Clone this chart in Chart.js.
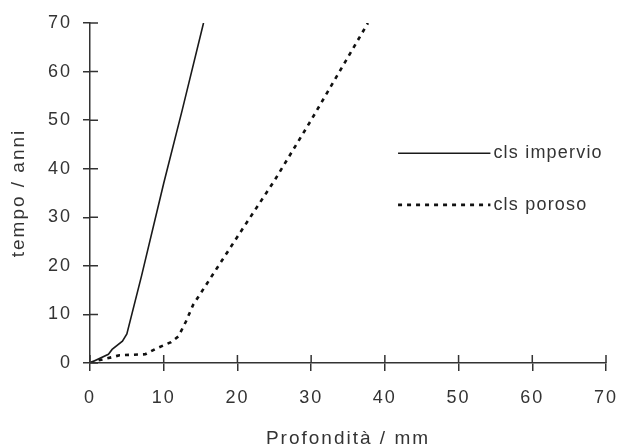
<!DOCTYPE html>
<html>
<head>
<meta charset="utf-8">
<script src="https://cdn.jsdelivr.net/npm/chart.js@4"></script>
<style>
  html, body { margin: 0; padding: 0; background: #fff; }
  #wrap { width: 622px; height: 448px; }
</style>
</head>
<body>
<div id="wrap"><canvas id="grafico"></canvas></div>
<script>
// dati (x = profondita mm, y = tempo anni)
var imperX = [0, 2.5, 3, 4.4, 5, 7, 10, 12.5, 15.4];
var imperY = [0, 1.8, 2.8, 4.5, 6, 18, 37, 52, 70];
var porosoX = [0, 1, 3, 4, 7.5, 9, 11, 12, 13, 14, 20, 25, 30, 37.7];
var porosoY = [0, 0.5, 1.2, 1.6, 1.8, 3, 4.3, 5.5, 8.5, 12, 26, 37.5, 50, 70];
var nomiSerie = ["cls impervio", "cls poroso"];
var xTicks = [0, 10, 20, 30, 40, 50, 60, 70];
var yTicks = [0, 10, 20, 30, 40, 50, 60, 70];

var INK = "#333333";
var FONT = "'Liberation Sans', Arial, sans-serif";

function punti(xs, ys){
  return xs.map(function(x, i){ return { x: x, y: ys[i] }; });
}

// spaziatura lettere come nello scan
var spaziatura = {
  id: "spaziatura",
  beforeLayout: function(chart){ chart.ctx.letterSpacing = "2px"; },
  beforeDraw: function(chart){ chart.ctx.letterSpacing = "2px"; }
};

// tacche che attraversano l'asse (parte interna)
var tacche = {
  id: "tacche",
  afterDraw: function(chart){
    var ctx = chart.ctx, a = chart.chartArea;
    ctx.save();
    ctx.strokeStyle = INK;
    ctx.lineWidth = 1.5;
    ctx.beginPath();
    chart.scales.x.ticks.forEach(function(t){
      var px = chart.scales.x.getPixelForValue(t.value);
      ctx.moveTo(px, a.bottom);
      ctx.lineTo(px, a.bottom - 8);
    });
    chart.scales.y.ticks.forEach(function(t){
      var py = chart.scales.y.getPixelForValue(t.value);
      ctx.moveTo(a.left, py);
      ctx.lineTo(a.left + 8, py);
    });
    ctx.stroke();
    ctx.restore();
  }
};

// legenda dentro l'area del grafico, a destra
var legenda = {
  id: "legenda",
  afterDraw: function(chart){
    var ctx = chart.ctx, a = chart.chartArea;
    var w = a.right - a.left, h = a.bottom - a.top;
    var x0 = a.left + w * 0.597, x1 = a.left + w * 0.776;
    var righe = [a.top + h * 0.383, a.top + h * 0.535];
    ctx.save();
    chart.data.datasets.forEach(function(ds, i){
      ctx.strokeStyle = ds.borderColor;
      ctx.lineWidth = ds.borderWidth;
      ctx.setLineDash(ds.borderDash || []);
      ctx.beginPath();
      ctx.moveTo(x0, righe[i]);
      ctx.lineTo(x1, righe[i]);
      ctx.stroke();
      ctx.setLineDash([]);
      ctx.fillStyle = INK;
      ctx.font = "18px " + FONT;
      ctx.letterSpacing = "1.2px";
      ctx.textAlign = "left";
      ctx.textBaseline = "middle";
      ctx.fillText(ds.label, x1 + 3, righe[i]);
    });
    ctx.restore();
  }
};

new Chart(document.getElementById("grafico"), {
  type: "line",
  data: {
    datasets: [
      { label: nomiSerie[0], data: punti(imperX, imperY), borderColor: "#1a1a1a", borderWidth: 1.6, pointRadius: 0, tension: 0, fill: false },
      { label: nomiSerie[1], data: punti(porosoX, porosoY), borderColor: "#111111", borderWidth: 2.6, borderDash: [4, 5], pointRadius: 0, tension: 0, fill: false }
    ]
  },
  options: {
    responsive: true,
    maintainAspectRatio: false,
    animation: false,
    layout: { padding: { top: 23, right: 16, left: 0, bottom: 0 } },
    plugins: { legend: { display: false }, tooltip: { enabled: false } },
    scales: {
      x: {
        type: "linear", min: 0, max: 70,
        afterFit: function(s){ s.height = 85; s.paddingLeft = 0; s.paddingRight = 0; },
        afterBuildTicks: function(s){ s.ticks = xTicks.map(function(v){ return { value: v }; }); },
        grid: { drawOnChartArea: false, drawTicks: true, tickLength: 8, color: INK, lineWidth: 1.5 },
        border: { display: true, color: INK, width: 1.5 },
        ticks: { color: INK, padding: 16, font: { family: FONT, size: 18 } },
        title: { display: true, text: "Profondità / mm", color: INK, padding: { top: 0, bottom: 0 }, font: { family: FONT, size: 19, lineHeight: 1 } }
      },
      y: {
        type: "linear", min: 0, max: 70,
        afterFit: function(s){ s.width = 90; s.paddingTop = 0; s.paddingBottom = 0; },
        afterBuildTicks: function(s){ s.ticks = yTicks.map(function(v){ return { value: v }; }); },
        grid: { drawOnChartArea: false, drawTicks: true, tickLength: 7, color: INK, lineWidth: 1.5 },
        border: { display: true, color: INK, width: 1.5 },
        ticks: { color: INK, padding: 11, font: { family: FONT, size: 18 } },
        title: { display: true, text: "tempo / anni", color: INK, padding: { top: 9, bottom: 0 }, font: { family: FONT, size: 19, lineHeight: 1 } }
      }
    }
  },
  plugins: [spaziatura, tacche, legenda]
});
</script>
</body>
</html>
